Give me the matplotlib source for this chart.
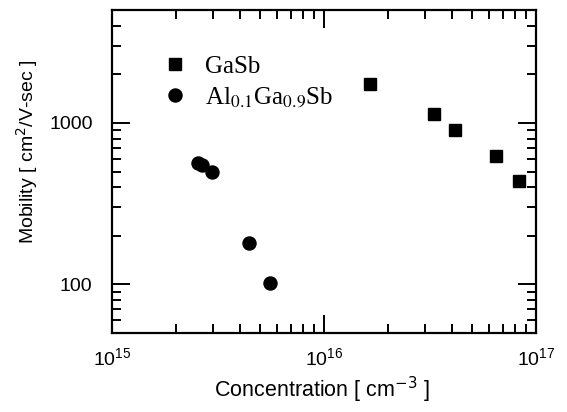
import matplotlib
matplotlib.use("Agg")
import matplotlib.pyplot as plt
from matplotlib.ticker import LogLocator, NullFormatter

gasb_conc = [1.64e16, 3.31e16, 4.15e16, 6.48e16, 8.35e16]
gasb_mob = [1750, 1130, 905, 625, 435]
algasb_conc = [2.54e15, 2.65e15, 2.95e15, 4.45e15, 5.58e15]
algasb_mob = [568, 546, 499, 181, 102]

xlabel = "Concentration [ cm$^{-3}$ ]"
ylabel = "Mobility [ cm$^{2}$/V-sec ]"
labels = ["GaSb", "Al$_{0.1}$Ga$_{0.9}$Sb"]

plt.rcParams['font.family'] = ['Liberation Sans', 'DejaVu Sans']

fig = plt.figure(figsize=(5.67, 4.12), dpi=100)
ax = fig.add_axes([112/567, 1-333/412, (536-112)/567, (333-10)/412])

ax.plot(gasb_conc, gasb_mob, 's', color='black', markersize=8.6, label=labels[0])
ax.plot(algasb_conc, algasb_mob, 'o', color='black', markersize=9.4, label=labels[1])

ax.set_xscale('log')
ax.set_yscale('log')
ax.set_xlim(1e15, 1e17)
ax.set_ylim(50, 5000)

ax.xaxis.set_major_locator(LogLocator(base=10, numticks=10))
ax.xaxis.set_minor_locator(LogLocator(base=10, subs=range(2, 10), numticks=10))
ax.yaxis.set_major_locator(LogLocator(base=10, numticks=10))
ax.yaxis.set_minor_locator(LogLocator(base=10, subs=range(2, 10), numticks=10))
ax.yaxis.set_minor_formatter(NullFormatter())
ax.xaxis.set_minor_formatter(NullFormatter())
ax.set_yticks([100, 1000])
ax.set_yticklabels(["100", "1000"])

for s in ax.spines.values():
    s.set_linewidth(1.6)
ax.tick_params(which='both', direction='in', top=True, right=True, width=1.4)
ax.tick_params(which='major', length=13, labelsize=14)
ax.tick_params(axis='x', which='major', pad=10)
ax.tick_params(axis='y', which='major', pad=14)
ax.tick_params(which='minor', length=6.5)

ax.set_xlabel(xlabel, fontsize=15.5, math_fontfamily='dejavusans')
ax.set_ylabel(ylabel, fontsize=14, math_fontfamily='dejavusans')
ax.xaxis.set_label_coords(0.495, -0.13)
ax.yaxis.set_label_coords(-0.17, 0.56)

leg = ax.legend(loc='upper left', bbox_to_anchor=(0.095, 0.89), frameon=False,
                prop={'family': 'Liberation Serif', 'size': 18, 'math_fontfamily': 'stix'},
                handletextpad=0.7, labelspacing=0.3, handlelength=1.0,
                borderaxespad=0)

fig.savefig("out.png", dpi=100)
